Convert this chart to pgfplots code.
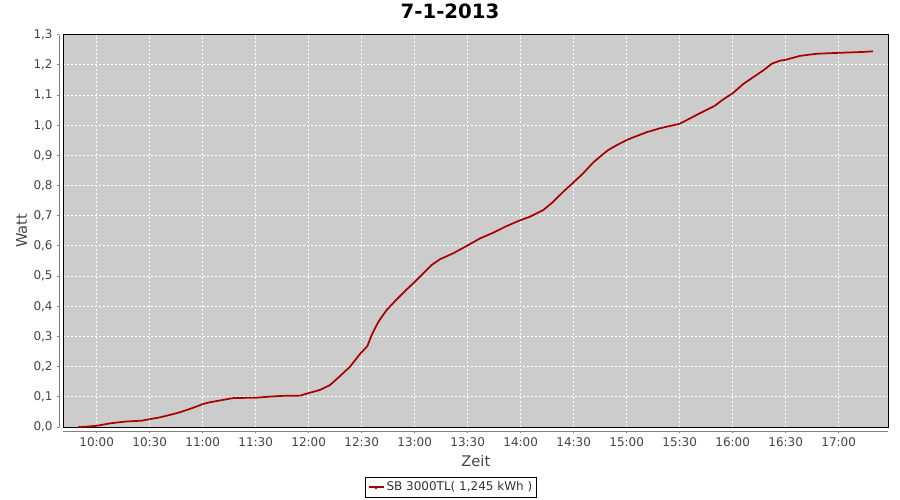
\documentclass[border=0pt]{standalone}
\usepackage{fontspec}
\setmainfont{DejaVu Sans}
\usepackage{pgfplots}
\pgfplotsset{compat=1.18}
\definecolor{bg}{HTML}{CCCCCC}
\definecolor{curve}{HTML}{AA0000}
\definecolor{txt}{HTML}{444444}
\definecolor{axgray}{HTML}{808080}
\begin{document}
\begin{tikzpicture}
\path[use as bounding box] (0,0) rectangle (675pt,375pt);
\node[anchor=base, font=\fontsize{14.8}{16}\selectfont\bfseries] at (337.5pt,361.3pt) {7-1-2013};
\begin{axis}[
  at={(47.5pt,54.75pt)}, anchor=south west,
  scale only axis, width=618.75pt, height=294.2pt,
  xmin=9.685, xmax=17.468, ymin=0, ymax=1.3,
  axis background/.style={fill=bg},
  axis line style={black, line width=0.75pt},
  grid=major,
  major grid style={white, line width=0.75pt, dash pattern=on 1.5pt off 1.5pt},
  xtick={10,10.5,11,11.5,12,12.5,13,13.5,14,14.5,15,15.5,16,16.5,17},
  xticklabels={10:00,10:30,11:00,11:30,12:00,12:30,13:00,13:30,14:00,14:30,15:00,15:30,16:00,16:30,17:00},
  ytick={0,0.1,0.2,0.3,0.4,0.5,0.6,0.7,0.8,0.9,1.0,1.1,1.2,1.3},
  tick pos=left, tick align=outside, major tick length=1.5pt,
  xtick style={draw=axgray, line width=0.75pt, yshift=-3pt},
  ytick style={draw=axgray, line width=0.75pt, xshift=-3pt},
  ticklabel style={font=\fontsize{9}{10}\selectfont, text=txt},
  xticklabel style={anchor=base, yshift=-13pt},
  yticklabel style={anchor=east, xshift=-3pt},
  /pgf/number format/.cd, fixed, fixed zerofill, precision=1, use comma, assume math mode=true,
  /pgfplots/.cd,
  xlabel={Zeit}, ylabel={Watt},
  label style={font=\fontsize{11}{12}\selectfont, text=txt},
  xlabel style={at={(axis description cs:0.5,-0.087)}, anchor=center},
  ylabel style={at={(axis description cs:-0.0504,0.5)}, anchor=center},
  legend style={at={(0.470,-0.154)}, anchor=center, draw=black, line width=0.75pt,
    font=\fontsize{9}{10}\selectfont, inner xsep=1.5pt, inner ysep=2pt,
    nodes={inner sep=1.5pt, text=black!80}},
  legend image code/.code={\draw[#1, line width=1.5pt] (0pt,0pt) -- (11pt,0pt); \draw[#1, line width=1.2pt] (5.5pt,-1.5pt) -- (5.5pt,0pt);},
  clip=false,
]
\addplot[curve, line width=1.3pt] coordinates {
(9.826,0.000) (9.90,0.001) (10.00,0.004) (10.125,0.012) (10.267,0.018) (10.425,0.021)
(10.50,0.026) (10.597,0.032) (10.69,0.040) (10.786,0.049) (10.88,0.060) (10.95,0.069)
(11.00,0.076) (11.069,0.082) (11.163,0.088) (11.289,0.096) (11.50,0.097) (11.572,0.099)
(11.729,0.103) (11.918,0.104) (11.996,0.112) (12.107,0.123) (12.201,0.139) (12.296,0.169)
(12.39,0.200) (12.484,0.242) (12.553,0.268) (12.594,0.305) (12.641,0.338) (12.673,0.357)
(12.736,0.388) (12.830,0.423) (12.925,0.456) (13.00,0.481) (13.081,0.509) (13.160,0.537)
(13.239,0.556) (13.365,0.576) (13.49,0.600) (13.616,0.625) (13.741,0.644) (13.868,0.666)
(13.987,0.684) (14.088,0.697) (14.213,0.719) (14.308,0.747) (14.402,0.780) (14.49,0.808)
(14.59,0.841) (14.685,0.877) (14.779,0.905) (14.826,0.918) (14.906,0.934) (15.00,0.951)
(15.062,0.960) (15.189,0.977) (15.314,0.990) (15.50,1.005) (15.566,1.017) (15.691,1.040)
(15.833,1.065) (15.911,1.086) (16.00,1.106) (16.10,1.137) (16.226,1.167) (16.305,1.186)
(16.368,1.204) (16.446,1.214) (16.50,1.217) (16.635,1.230) (16.792,1.237) (17.00,1.240)
(17.232,1.243) (17.321,1.245)
};
\addlegendentry{SB 3000TL( 1,245 kWh )}
\draw[axgray, line width=0.75pt] ([xshift=-3pt]rel axis cs:0,0) -- ([xshift=-3pt]rel axis cs:0,1);
\draw[axgray, line width=0.75pt] ([yshift=-3pt]rel axis cs:0,0) -- ([yshift=-3pt]rel axis cs:1,0);
\end{axis}
\end{tikzpicture}
\end{document}
